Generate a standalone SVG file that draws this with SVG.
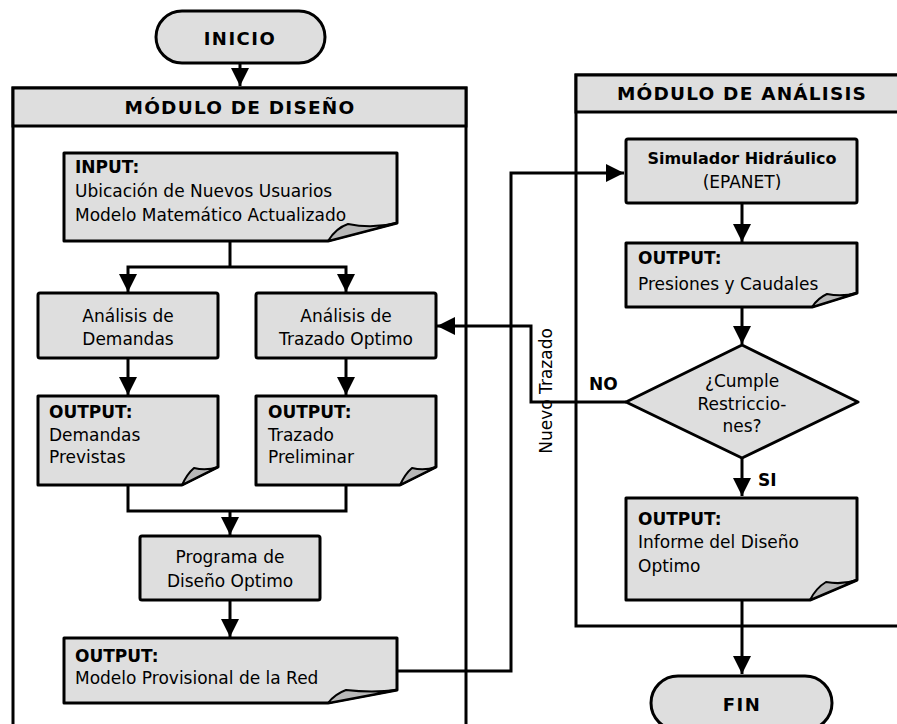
<svg xmlns="http://www.w3.org/2000/svg" width="897" height="724" viewBox="0 0 897 724">
<defs>
<style>
.box{fill:#dedede;stroke:#000;stroke-width:3;stroke-linejoin:round}
.fold{fill:#b8b8b8;stroke:#000;stroke-width:2;stroke-linejoin:round}
.hdr{fill:#dedede;stroke:#000;stroke-width:3}
.cont{fill:none;stroke:#000;stroke-width:3}
.ln{fill:none;stroke:#000;stroke-width:3;stroke-linejoin:miter}
.t{font-family:"DejaVu Sans","Liberation Sans",sans-serif;font-size:17px;fill:#000}
.b{font-weight:bold}
.c{text-anchor:middle}
.h{font-size:18.5px;font-weight:bold;letter-spacing:1.2px}
</style>
<marker id="ah" markerUnits="userSpaceOnUse" markerWidth="18" markerHeight="18" refX="18" refY="9" orient="auto">
<path d="M0,0 L18,9 L0,18 Z" fill="#000"/>
</marker>
</defs>

<g id="modulo-diseno">
<path class="cont" d="M13,730 V88 H466 V730"/>
<rect class="hdr" x="13" y="88" width="453" height="38"/>
<text class="t h c" x="240" y="114">MÓDULO DE DISEÑO</text>
</g>

<g id="modulo-analisis">
<path class="cont" d="M905,626 H576 V75 H905"/>
<rect class="hdr" x="576" y="75" width="330" height="37"/>
<text class="t h c" x="742" y="100">MÓDULO DE ANÁLISIS</text>
</g>

<g id="connectors">
<path class="ln" d="M240,63 V86" marker-end="url(#ah)"/>
<path class="ln" d="M230,241 V267"/>
<path class="ln" d="M230,267 H128 V292" marker-end="url(#ah)"/>
<path class="ln" d="M230,267 H346 V292" marker-end="url(#ah)"/>
<path class="ln" d="M128,358 V395" marker-end="url(#ah)"/>
<path class="ln" d="M346,358 V395" marker-end="url(#ah)"/>
<path class="ln" d="M128,485 V511 H346 V485"/>
<path class="ln" d="M230,511 V535" marker-end="url(#ah)"/>
<path class="ln" d="M230,600 V637" marker-end="url(#ah)"/>
<path class="ln" d="M397,671 H511 V173 H624" marker-end="url(#ah)"/>
<path class="ln" d="M742,203 V242" marker-end="url(#ah)"/>
<path class="ln" d="M742,307 V344" marker-end="url(#ah)"/>
<path class="ln" d="M626,402 H531 V326 H437" marker-end="url(#ah)"/>
<path class="ln" d="M742,458 V496" marker-end="url(#ah)"/>
<path class="ln" d="M742,600 V674" marker-end="url(#ah)"/>
<text class="t b" x="589" y="390">NO</text>
<text class="t b" x="758" y="486">SI</text>
<text class="t c" transform="translate(552,391) rotate(-90)">Nuevo Trazado</text>
</g>

<g id="inicio">
<rect class="box" x="156" y="11" width="169" height="52" rx="26" ry="26"/>
<text class="t b c" x="240" y="45" style="font-size:18px;letter-spacing:1.5px">INICIO</text>
</g>

<g id="input">
<path class="box" d="M64,153 H397 V223 L328,241 H64 Z"/>
<path class="fold" d="M328,241 Q336,228 348,224 Q372,229 397,223 Z"/>
<text class="t b" x="75" y="173">INPUT:</text>
<text class="t" x="75" y="197">Ubicación de Nuevos Usuarios</text>
<text class="t" x="75" y="221">Modelo Matemático Actualizado</text>
</g>

<g id="analisis-demandas">
<rect class="box" x="38" y="293" width="180" height="65" rx="2"/>
<text class="t c" x="128" y="322">Análisis de</text>
<text class="t c" x="128" y="345">Demandas</text>
</g>

<g id="analisis-trazado">
<rect class="box" x="256" y="293" width="180" height="65" rx="2"/>
<text class="t c" x="346" y="322">Análisis de</text>
<text class="t c" x="346" y="345">Trazado Optimo</text>
</g>

<g id="output-demandas">
<path class="box" d="M38,396 H218 V467 L182,485 H38 Z"/>
<path class="fold" d="M182,485 Q187,474 194,468 Q206,471 218,467 Z"/>
<text class="t b" x="49" y="418">OUTPUT:</text>
<text class="t" x="49" y="441">Demandas</text>
<text class="t" x="49" y="463">Previstas</text>
</g>

<g id="output-trazado">
<path class="box" d="M256,396 H436 V467 L400,485 H256 Z"/>
<path class="fold" d="M400,485 Q405,474 412,468 Q424,471 436,467 Z"/>
<text class="t b" x="268" y="418">OUTPUT:</text>
<text class="t" x="268" y="441">Trazado</text>
<text class="t" x="268" y="463">Preliminar</text>
</g>

<g id="programa">
<rect class="box" x="140" y="536" width="180" height="64" rx="2"/>
<text class="t c" x="230" y="563">Programa de</text>
<text class="t c" x="230" y="587">Diseño Optimo</text>
</g>

<g id="output-modelo">
<path class="box" d="M64,638 H397 V690 L328,703 H64 Z"/>
<path class="fold" d="M328,703 Q335,694 346,690 Q372,693 397,690 Z"/>
<text class="t b" x="75" y="662">OUTPUT:</text>
<text class="t" x="75" y="684">Modelo Provisional de la Red</text>
</g>

<g id="simulador">
<rect class="box" x="626" y="139" width="231" height="64" rx="2"/>
<text class="t b c" x="742" y="164" style="font-size:16px">Simulador Hidráulico</text>
<text class="t c" x="742" y="188">(EPANET)</text>
</g>

<g id="output-presiones">
<path class="box" d="M626,243 H857 V293 L812,307 H626 Z"/>
<path class="fold" d="M812,307 Q818,298 827,294 Q842,297 857,293 Z"/>
<text class="t b" x="638" y="264">OUTPUT:</text>
<text class="t" x="638" y="290">Presiones y Caudales</text>
</g>

<g id="cumple">
<path class="box" d="M742,345 L858,402 L742,458 L626,402 Z"/>
<text class="t c" x="742" y="387">¿Cumple</text>
<text class="t c" x="742" y="410">Restriccio-</text>
<text class="t c" x="742" y="432">nes?</text>
</g>

<g id="output-informe">
<path class="box" d="M626,498 H857 V580 L810,600 H626 Z"/>
<path class="fold" d="M810,600 Q816,588 826,582 Q842,585 857,580 Z"/>
<text class="t b" x="638" y="525">OUTPUT:</text>
<text class="t" x="638" y="548">Informe del Diseño</text>
<text class="t" x="638" y="572">Optimo</text>
</g>

<g id="fin">
<rect class="box" x="651" y="676" width="181" height="54" rx="27" ry="27"/>
<text class="t b c" x="742" y="711" style="font-size:18px;letter-spacing:1.5px">FIN</text>
</g>
</svg>
